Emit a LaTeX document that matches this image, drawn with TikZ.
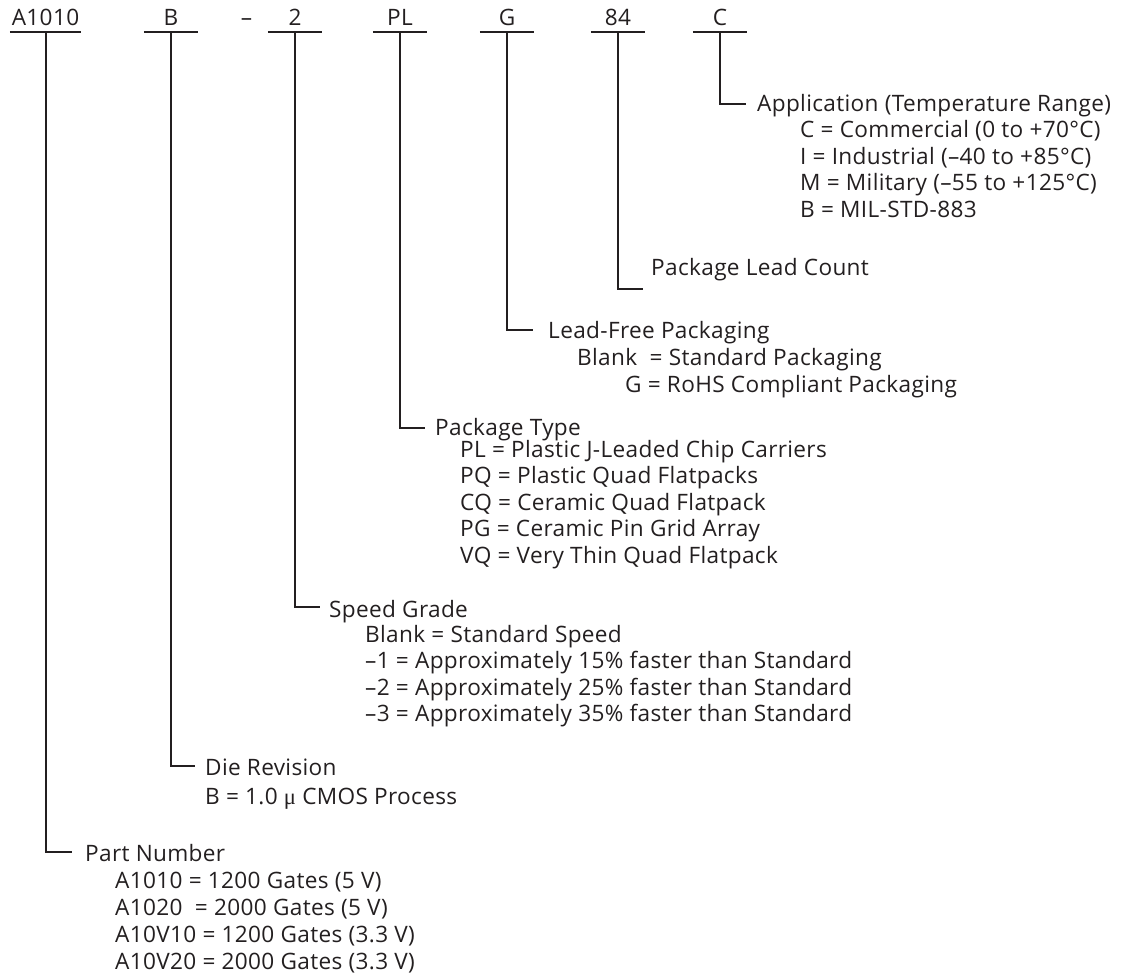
\documentclass[tikz,border=0pt]{standalone}
\usepackage{fontspec}
\setmainfont[LetterSpace=1.5]{Open Sans}
\newfontfamily\mufont{Liberation Serif}
\usetikzlibrary{positioning}
\definecolor{ink}{RGB}{35,31,32}

\begin{document}
\begin{tikzpicture}[x=1pt,y=-1pt,
	font=\fontsize{22.6}{26}\selectfont, color=ink,
	rule/.style={line width=2pt},
	codebox/.style={anchor=base, inner xsep=0pt, inner ysep=6pt, text depth=0pt, minimum width=54pt},
	headtxt/.style={anchor=base west, inner sep=0pt},
	itemtxt/.style={anchor=base west, inner sep=0pt}]
	\useasboundingbox (0,0) rectangle (1142,974);
	
	% part number code
	\node[codebox, minimum width=71pt] (pn) at (45.5,26) {A1010};
	\node[codebox] (rev) at (171,26) {B};
	\node[anchor=base, inner sep=0pt] (dash) at (246.5,26) {--};
	\node[codebox] (spd) at (295,26) {2};
	\node[codebox] (pkg) at (400,26) {PL};
	\node[codebox] (lf) at (507,26) {G};
	\node[codebox] (cnt) at (618,26) {84};
	\node[codebox] (app) at (720,26) {C};
	
	% ends of the leaders
	\coordinate (app-c) at (746,104);
	\coordinate (cnt-c) at (643,289);
	\coordinate (lf-c) at (533,330);
	\coordinate (pkg-c) at (425,428);
	\coordinate (spd-c) at (320,607);
	\coordinate (rev-c) at (195,766);
	\coordinate (pn-c) at (72,852);
	
	\foreach \n in {pn,rev,spd,pkg,lf,cnt,app}
	\draw[rule] (\n.south west) -- (\n.south east) (\n.south) |- (\n-c);
	
	% headings
	\node[headtxt] (app-h) at (757,111) {Application (Temperature Range)};
	\node[headtxt] (cnt-h) at (651,275) {Package Lead Count};
	\node[headtxt] (lf-h) at (548,338) {Lead-Free Packaging};
	\node[headtxt] (pkg-h) at (435,435) {Package Type};
	\node[headtxt] (spd-h) at (329,617) {Speed Grade};
	\node[headtxt] (rev-h) at (205,775) {Die Revision};
	\node[headtxt] (pn-h) at (85,861) {Part Number};
	
	% entries
	\foreach \t [count=\i] in {{C = Commercial (0 to +70°C)}, {I = Industrial (--40 to +85°C)}, {M = Military (--55 to +125°C)}, {B = MIL-STD-883}}
	\node[itemtxt] (app-\i) at (800,{111+26.5*\i}) {\t};
	
	\node[itemtxt] (lf-1) at (577,365) {Blank\ \ = Standard Packaging};
	\node[itemtxt] (lf-2) at (625,392) {G = RoHS Compliant Packaging};
	
	\foreach \t [count=\i] in {{PL = Plastic J-Leaded Chip Carriers}, {PQ = Plastic Quad Flatpacks}, {CQ = Ceramic Quad Flatpack}, {PG = Ceramic Pin Grid Array}, {VQ = Very Thin Quad Flatpack}}
	\node[itemtxt] (pkg-\i) at (460,{430.5+26.5*\i}) {\t};
	
	\foreach \t [count=\i] in {{Blank = Standard Speed}, {--1 = Approximately 15\% faster than Standard}, {--2 = Approximately 25\% faster than Standard}, {--3 = Approximately 35\% faster than Standard}}
	\node[itemtxt] (spd-\i) at (365,{615.5+26.5*\i}) {\t};
	
	\node[itemtxt] (rev-1) at (205,804) {B = 1.0 {\mufont μ} CMOS Process};
	
	\foreach \t [count=\i] in {{A1010 = 1200 Gates (5 V)}, {A1020\ \ = 2000 Gates (5 V)}, {A10V10 = 1200 Gates (3.3 V)}, {A10V20 = 2000 Gates (3.3 V)}}
	\node[itemtxt] (pn-\i) at (115,{861+27*\i}) {\t};
	
\end{tikzpicture}
\end{document}
